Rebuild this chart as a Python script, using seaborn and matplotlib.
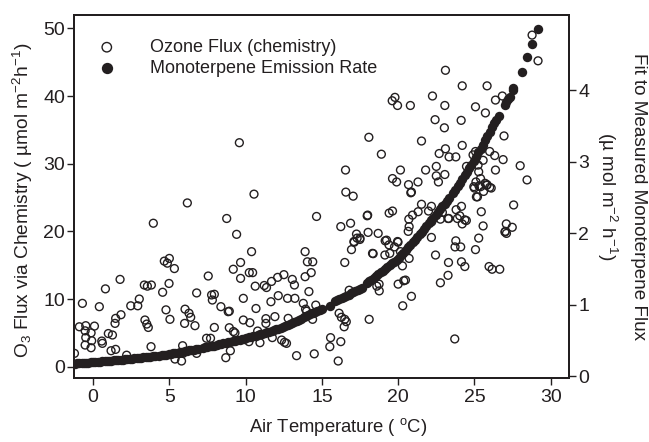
import matplotlib
matplotlib.use("Agg")
import matplotlib.pyplot as plt
import seaborn as sns
import pandas as pd

# ---------------- data ----------------
ozone_temp = [
    -1.22, -0.70, -0.90, -0.48, -0.52, 0.09, -0.48, -0.13, -0.52, -0.13, -0.09, 0.41, 0.57, 0.61, 0.81,
    1.00, 1.27, 1.18, 1.48, 1.77, 1.48, 1.44, 1.83, 2.20, 2.47, 2.93, 3.03, 3.36, 3.56, 3.82, 3.40, 3.52,
    3.62, 3.80, 3.95, 4.56, 4.67, 5.00, 4.87, 5.33, 4.98, 4.78, 5.04, 5.37, 5.80, 5.90, 5.87, 6.03, 6.29,
    6.40, 6.00, 6.68, 6.18, 6.79, 6.79, 7.55, 7.44, 7.70, 7.77, 7.95, 7.82, 7.95, 8.38, 8.76, 8.86, 8.93,
    8.70, 9.00, 8.93, 9.20, 9.41,
    9.59, 10.55, 9.19, 9.67, 9.67, 9.85, 10.39, 10.24, 10.46, 10.63, 11.22, 11.37, 10.68, 9.85, 10.28,
    11.70, 12.10, 12.51, 11.66, 12.14, 11.92, 11.33, 11.33, 10.79, 13.06, 13.20, 12.75, 13.23, 13.78,
    13.93, 13.90, 14.05, 14.40, 13.90, 14.30, 14.15, 14.65, 14.50, 13.34, 12.68, 12.36, 12.55, 11.75,
    10.94, 10.22, 12.79, 14.00, 14.60, 14.39, 14.43, 9.30,
    15.57, 15.52, 16.24, 16.07, 16.13, 16.28, 16.50, 16.60, 16.46, 16.57, 17.05, 16.24, 16.88, 17.97,
    16.55, 16.79, 16.50, 16.94, 17.12, 17.27, 17.49, 18.03, 18.69, 18.08, 18.90, 18.32, 18.10, 18.60,
    18.76, 18.75, 19.13, 19.45, 19.24, 19.41, 19.63, 19.99, 19.76, 19.96, 20.15, 20.28, 20.00, 20.48,
    20.87, 20.30,
    19.61, 19.79, 19.96, 20.80, 22.25, 23.06, 22.42, 23.03, 24.13, 25.07, 25.72, 26.38, 26.83, 23.10,
    24.20, 25.83, 29.17, 28.78, 21.53, 23.10, 22.69, 23.34, 23.78, 24.20, 26.94, 26.88, 28.00, 28.45,
    19.63, 19.90, 20.15, 20.68, 20.83, 21.30, 21.80, 22.50, 22.50, 22.64, 23.06, 24.48, 24.91, 25.07,
    25.24, 25.28, 25.40, 25.10, 24.96, 25.40, 25.60, 25.70, 25.80, 26.00, 26.38, 25.13, 26.33, 26.00,
    25.57, 18.00, 17.10, 17.31, 17.50, 18.36, 19.15, 19.40, 20.70, 20.72, 20.66, 20.94, 21.31, 21.53,
    21.99, 22.18, 22.18, 22.45, 22.77, 23.27, 23.30, 23.27, 23.80, 24.15, 23.88, 24.20, 24.37, 23.78,
    23.73, 24.10, 24.15, 24.37, 25.07, 25.28, 25.45, 25.57, 23.71, 25.96, 26.16, 26.66, 27.03, 27.09,
    27.48, 27.57, 22.77, 22.90, 20.37, 20.72, 24.04, 24.47, 23.32, 20.87, 25.00, 25.30, 25.20, 25.83,
    26.10, 22.20, 27.10, 27.00,
]
ozone_flux = [
    1.97, 9.36, 5.90, 6.06, 5.30, 6.00, 4.30, 5.00, 3.20, 2.80, 3.84, 8.87, 3.79, 3.45, 11.50,
    4.90, 4.68, 2.36, 2.56, 12.90, 7.14, 6.40, 7.68, 1.70, 9.00, 9.00, 10.00, 12.07, 11.90, 12.07, 6.90, 6.30,
    5.80, 2.96, 21.20, 11.00, 15.60, 16.00, 15.30, 14.50, 12.30, 8.40, 7.00, 1.13, 0.84, 1.97, 3.10, 8.50, 7.90,
    7.30, 6.40, 6.06, 24.20, 10.90, 1.97, 13.40, 4.20, 4.20, 10.60, 10.70, 9.85, 5.80, 8.87, 21.90, 8.13, 8.20,
    1.33, 2.36, 5.76, 5.20, 19.56,
    33.10, 25.50, 14.40, 15.40, 13.05, 10.10, 17.00, 13.90, 13.90, 11.90, 12.00, 11.70, 8.60, 6.90, 6.50,
    12.60, 13.20, 13.60, 9.60, 10.50, 7.40, 7.10, 6.40, 5.27, 12.90, 12.07, 10.10, 10.10, 9.36,
    8.50, 17.00, 15.50, 15.50, 13.30, 13.90, 11.10, 22.20, 1.90, 1.63, 3.45, 3.94, 3.60, 4.30,
    3.55, 3.70, 7.14, 8.20, 9.10, 7.00, 7.90, 5.00,
    4.29, 2.96, 3.70, 0.84, 7.90, 7.30, 7.00, 6.65, 5.90, 25.80, 25.20, 20.70, 21.20, 22.30,
    29.06, 11.30, 15.40, 17.30, 18.40, 19.60, 18.80, 19.85, 19.70, 33.90, 31.40, 16.75, 7.00, 11.90,
    11.20, 12.20, 16.50, 16.75, 18.70, 22.70, 23.00, 18.40, 17.70, 18.50, 17.00, 14.90, 12.20, 12.80,
    10.40, 9.00,
    39.30, 39.80, 38.60, 38.60, 40.00, 38.60, 36.50, 35.30, 36.40, 38.40, 37.50, 39.40, 40.00, 43.80,
    41.50, 41.50, 45.20, 49.00, 33.35, 32.20, 31.50, 31.00, 31.00, 32.70, 34.10, 30.60, 29.70, 27.60,
    27.80, 27.30, 29.06, 26.90, 25.70, 27.30, 29.06, 29.60, 28.20, 27.30, 28.40, 29.60, 31.30, 31.80,
    29.80, 28.80, 27.80, 27.30, 26.60, 26.60, 25.90, 27.10, 26.80, 26.50, 29.06, 25.10, 31.20, 31.80,
    30.50, 22.40, 18.50, 19.00, 19.00, 16.70, 18.60, 18.00, 21.80, 20.70, 20.00, 22.40, 22.90, 24.00,
    23.00, 23.70, 19.10, 16.50, 12.40, 13.50, 15.40, 21.90, 23.20, 23.70, 21.90, 21.10, 21.70, 18.60,
    17.70, 17.70, 15.50, 14.80, 17.30, 19.00, 22.90, 20.80, 4.10, 14.80, 14.40, 14.40, 20.00, 21.10,
    20.60, 23.90, 21.80, 22.80, 12.70, 16.00, 22.30, 21.60, 21.90, 25.80, 26.40, 26.70, 25.10, 26.90,
    26.40, 21.40, 19.70, 19.90,
]

mono_temp = [
    -1.20, -1.05, -0.90, -0.75, -0.60, -0.45, -0.30, -0.15, 0.00, 0.15, 0.30, 0.45, 0.60, 0.75, 0.90,
    1.05, 1.20, 1.35, 1.50, 1.65, 1.80, 1.95, 2.10, 2.25, 2.40, 2.55, 2.70, 2.85, 3.00, 3.15, 3.30,
    3.45, 3.60, 3.75, 3.90, 4.05,
    4.35, 4.50, 4.65, 4.80, 4.95, 5.10, 5.25, 5.40, 5.55, 5.70, 5.85, 6.00, 6.15, 6.30, 6.45, 6.60,
    6.75, 6.90,
    7.20, 7.35, 7.50, 7.65, 7.80, 7.95, 8.10, 8.25, 8.40, 8.55, 8.70, 8.85, 9.00, 9.15, 9.30, 9.45,
    9.60, 9.75, 9.90, 10.05, 10.20, 10.35, 10.50, 10.65, 10.80, 10.95, 11.10, 11.25, 11.40, 11.55,
    11.70, 11.85, 12.00, 12.15, 12.30, 12.45, 12.60, 12.75, 12.90, 13.05, 13.20, 13.35, 13.50, 13.65,
    13.80, 13.95, 14.10, 14.25, 14.40, 14.55, 14.70, 14.85, 15.00,
    15.52,
    15.85, 16.00, 16.15, 16.30, 16.45, 16.60, 16.75, 16.90, 17.05, 17.20, 17.35, 17.50, 17.65,
    17.95, 18.10, 18.25, 18.40, 18.55, 18.70, 18.85, 19.00, 19.15, 19.30, 19.45, 19.60, 19.75, 19.90,
    20.05, 20.20, 20.35, 20.50, 20.65, 20.80, 20.95, 21.10, 21.25, 21.40, 21.55, 21.70, 21.85, 22.00,
    22.15, 22.30, 22.45, 22.60, 22.75, 22.90, 23.05, 23.20, 23.35,
    23.60, 23.75, 23.90, 24.05, 24.20, 24.35, 24.50, 24.65, 24.80, 24.95, 25.10, 25.25, 25.40, 25.55,
    25.70, 25.85, 26.00, 26.15, 26.30, 26.40,
    26.60, 27.00, 27.10, 27.20, 27.30, 27.50, 27.55, 28.10, 28.45, 28.80, 29.20,
]
mono_rate = [
    0.180, 0.182, 0.185, 0.187, 0.190, 0.192, 0.195, 0.198, 0.200, 0.203, 0.205, 0.208, 0.210, 0.213, 0.216,
    0.219, 0.222, 0.225, 0.228, 0.231, 0.234, 0.237, 0.240, 0.243, 0.246, 0.250, 0.253, 0.256, 0.260, 0.263,
    0.267, 0.270, 0.274, 0.277, 0.280, 0.284,
    0.290, 0.295, 0.300, 0.305, 0.310, 0.316, 0.322, 0.328, 0.334, 0.340, 0.346, 0.352, 0.358, 0.364,
    0.370, 0.376, 0.382, 0.388,
    0.405, 0.410, 0.415, 0.420, 0.427, 0.433, 0.440, 0.447, 0.454, 0.461, 0.468, 0.475, 0.482, 0.490,
    0.497, 0.505, 0.513, 0.521, 0.529, 0.537, 0.545, 0.553, 0.562, 0.571, 0.580, 0.589, 0.598, 0.608,
    0.618, 0.628, 0.638, 0.648, 0.659, 0.670, 0.681, 0.692, 0.704, 0.716, 0.728, 0.750, 0.765, 0.780,
    0.795, 0.810, 0.825, 0.840, 0.855, 0.870, 0.885, 0.900, 0.915, 0.930, 0.945,
    0.990,
    1.050, 1.065, 1.080, 1.095, 1.110, 1.125, 1.140, 1.160, 1.175, 1.190, 1.210, 1.225, 1.240,
    1.310, 1.330, 1.355, 1.380, 1.405, 1.430, 1.455, 1.480, 1.505, 1.530, 1.555, 1.580, 1.605, 1.630,
    1.660, 1.695, 1.730, 1.770, 1.805, 1.840, 1.875, 1.910, 1.950, 1.985, 2.020, 2.060, 2.100, 2.140,
    2.180, 2.220, 2.260, 2.300, 2.340, 2.375, 2.410, 2.450, 2.490,
    2.560, 2.610, 2.660, 2.710, 2.760, 2.810, 2.860, 2.910, 2.960, 3.010, 3.070, 3.130, 3.180, 3.240,
    3.300, 3.360, 3.420, 3.480, 3.540, 3.580,
    3.640, 3.790, 3.830, 3.870, 3.910, 4.000, 4.030, 4.250, 4.460, 4.650, 4.860,
]

labels = ["Ozone Flux (chemistry)", "Monoterpene Emission Rate"]
x_ticks = [0, 5, 10, 15, 20, 25, 30]
left_ticks = [0, 10, 20, 30, 40, 50]
right_ticks = [0, 1, 2, 3, 4]

ozone = pd.DataFrame({"temp": ozone_temp, "flux": ozone_flux})
mono = pd.DataFrame({"temp": mono_temp, "rate": mono_rate})

# ---------------- style ----------------
sns.set_style("ticks")
plt.rcParams["font.family"] = ["Liberation Sans", "DejaVu Sans"]
plt.rcParams["mathtext.fontset"] = "custom"
plt.rcParams["mathtext.rm"] = "Liberation Sans"
plt.rcParams["mathtext.it"] = "Liberation Sans"
ink = "#231f20"

fig = plt.figure(figsize=(6.49, 4.42), dpi=100)
ax = fig.add_axes([74 / 649, 1 - 378 / 442, (569 - 74) / 649, (378 - 15) / 442])
ax2 = ax.twinx()

sns.scatterplot(data=ozone, x="temp", y="flux", ax=ax, marker="o", s=32,
                color=ink, facecolor="none", edgecolor=ink, linewidth=1.0, legend=False, zorder=2)
sns.scatterplot(data=mono, x="temp", y="rate", ax=ax2, marker="o", s=46,
                color=ink, edgecolor=ink, linewidth=0.0, legend=False, zorder=3)

ax.set_xlim(-1.25, 31.2)
ax.set_ylim(-1.67, 51.97)
ax2.set_ylim(-0.021, 5.05)
ax.set_xticks(x_ticks)
ax.set_yticks(left_ticks)
ax2.set_yticks(right_ticks)

for a in (ax, ax2):
    for sp in a.spines.values():
        sp.set_visible(True)
        sp.set_linewidth(1.4)
        sp.set_color(ink)
ax.tick_params(axis="both", direction="out", length=5, width=1.0, colors=ink,
               labelsize=14, pad=1.5)
ax.tick_params(axis="x", pad=3)
ax2.tick_params(axis="y", direction="out", length=5, width=1.0, colors=ink,
                labelsize=14, pad=1.5)

ax.set_xlabel("Air Temperature ( $^{\\mathrm{o}}$C)", fontsize=13.3, color=ink, va="center")
ax.xaxis.set_label_coords(0.533, -0.134)
ax.set_ylabel("O$_3$ Flux via Chemistry ( \u00b5mol m$^{-2}$h$^{-1}$)", fontsize=13.8,
              color=ink, va="center")
ax.yaxis.set_label_coords(-0.104, 0.49)
ax2.set_ylabel("Fit to Measured Monoterpene Flux\n(\u00b5 mol m$^{-2}$ h$^{-1}$)", fontsize=13.6,
               color=ink, rotation=270, va="center", ha="center", multialignment="center",
               linespacing=1.55)
ax2.yaxis.set_label_coords(1.105, 0.5)

handles = [ax.collections[0], ax2.collections[0]]
leg = ax2.legend(handles, labels, loc="upper left", bbox_to_anchor=(0.048, 0.934),
                 frameon=False, fontsize=13, handlelength=1.0, handletextpad=1.9,
                 labelspacing=0.2, borderpad=0, borderaxespad=0, markerscale=1.2)
for t in leg.get_texts():
    t.set_color(ink)

fig.savefig("out.png", dpi=100)
